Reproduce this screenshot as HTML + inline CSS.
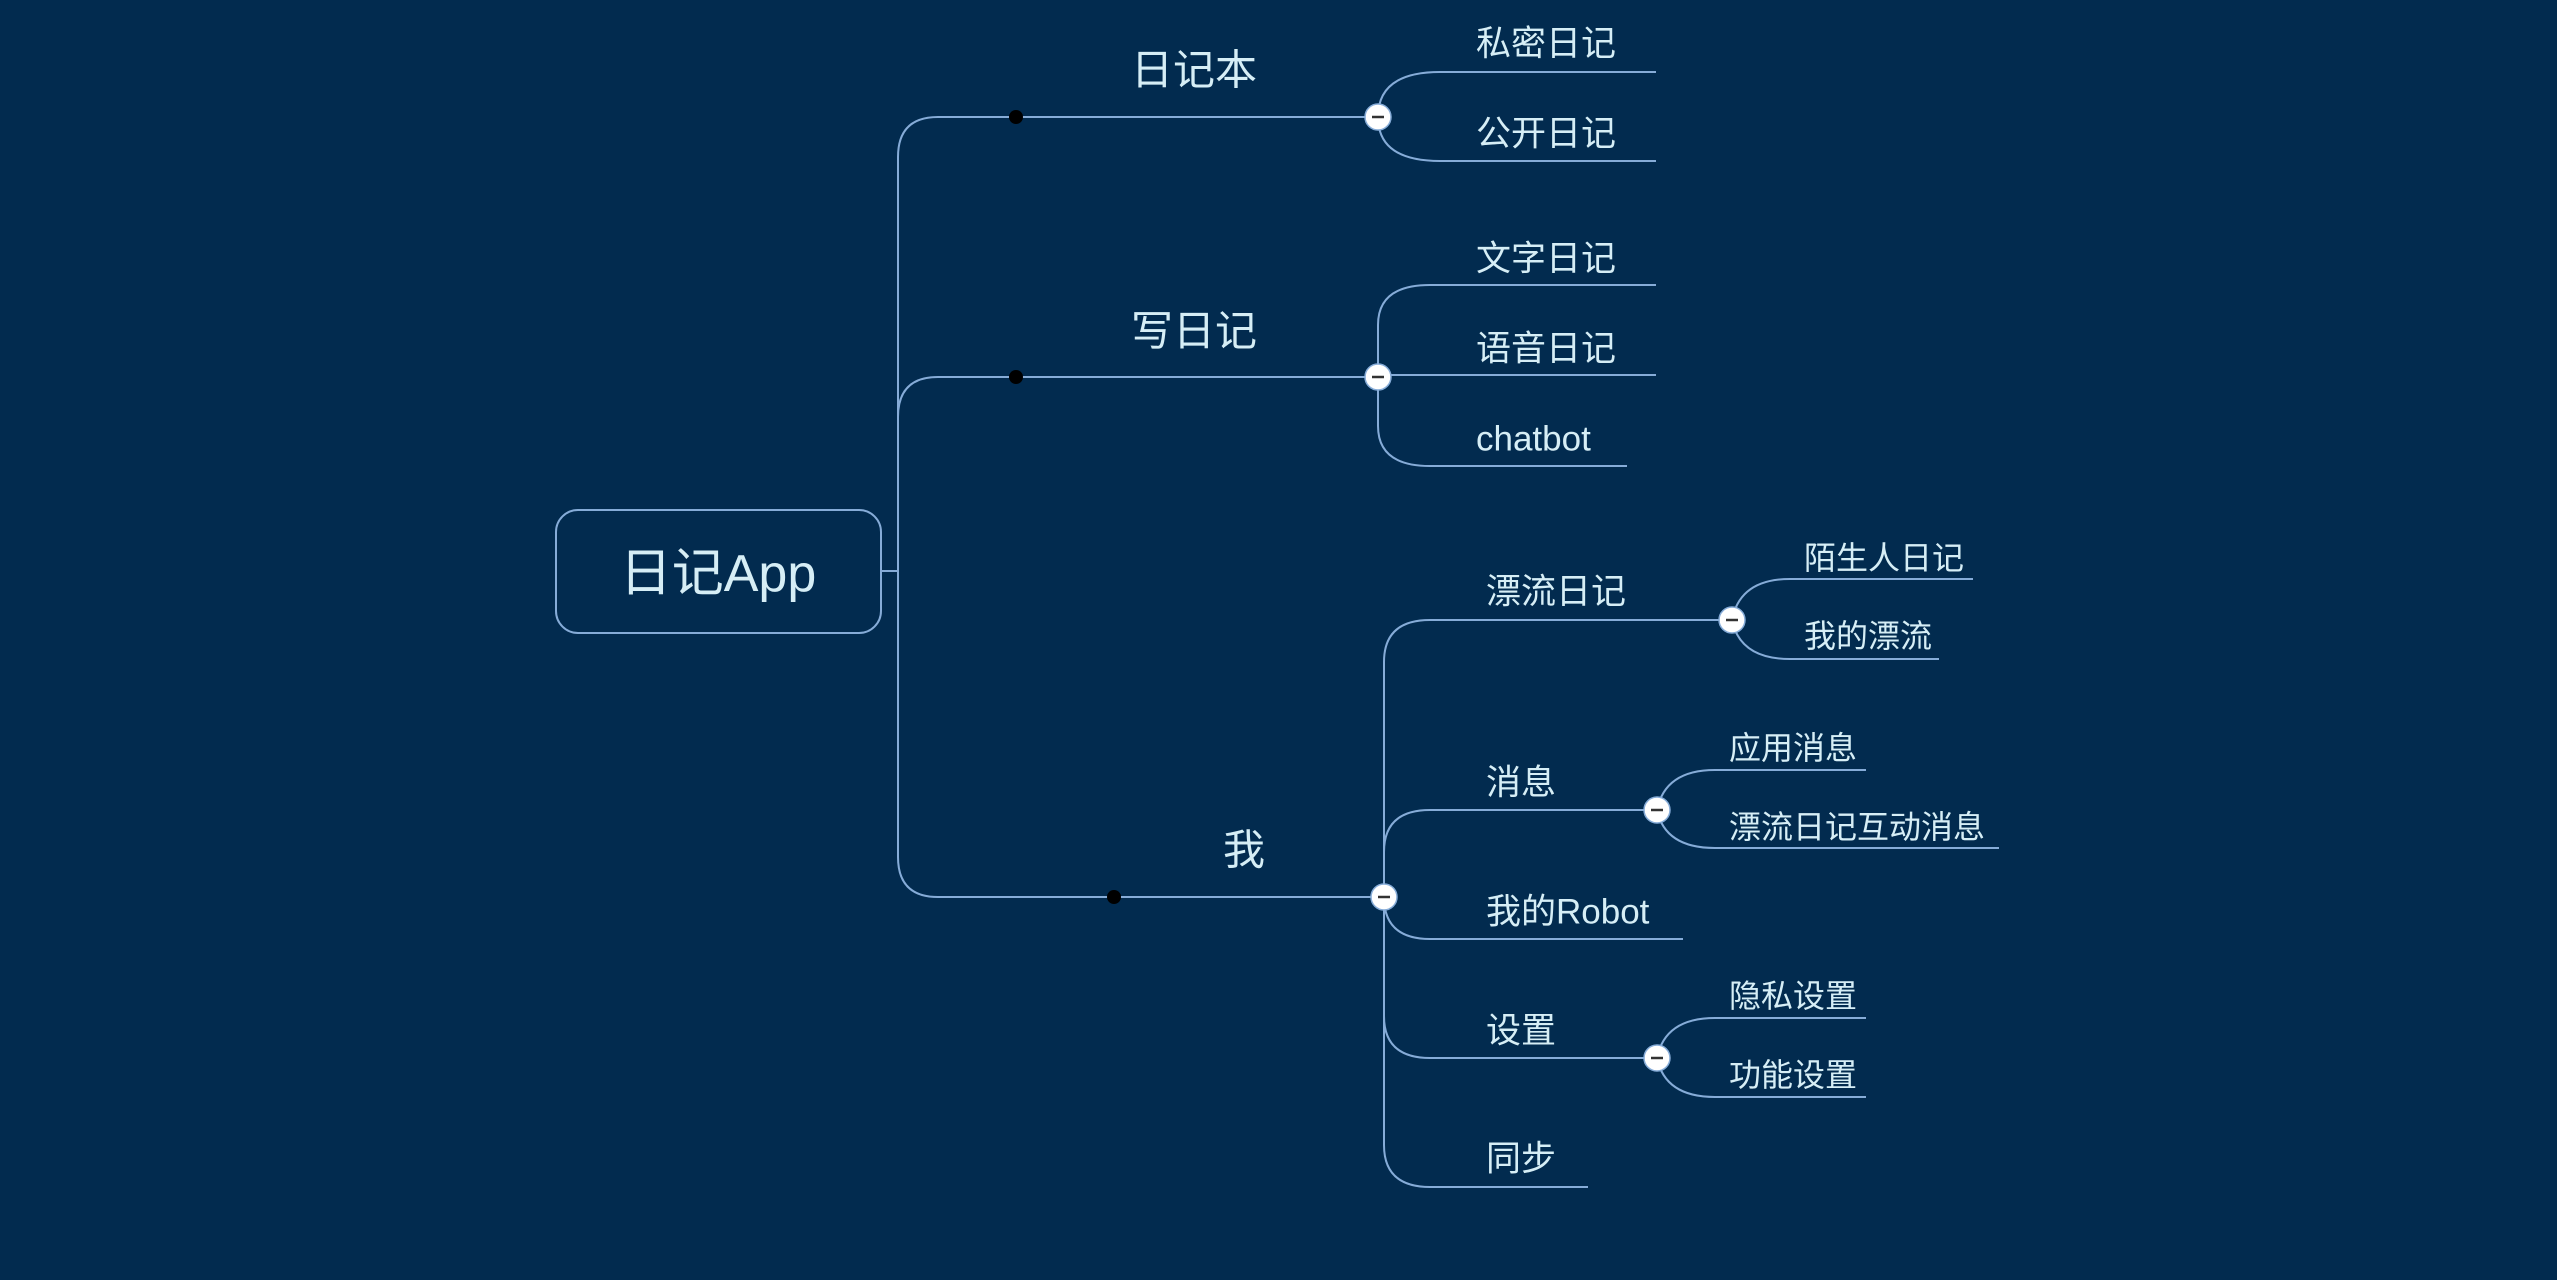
<!DOCTYPE html>
<html><head><meta charset="utf-8"><style>
html,body{margin:0;padding:0;background:#022b4f;width:2557px;height:1280px;overflow:hidden}
svg text{font-family:"Liberation Sans","Noto Sans CJK SC",sans-serif;fill:#d6eef6}
</style></head><body>
<svg width="2557" height="1280" viewBox="0 0 2557 1280" xmlns="http://www.w3.org/2000/svg">
<rect width="2557" height="1280" fill="#022b4f"/>
<g fill="none" stroke="#86acd8" stroke-width="2">
<rect x="556" y="510" width="325" height="123" rx="22"/>
<path d="M881 571 L898 571"/>
<path d="M1016 117 L938 117 Q898 117 898 157 L898 857 Q898 897 938 897 L1114 897"/>
<path d="M898 417 Q898 377 938 377 L1016 377"/>
<path d="M1016 117 L1378 117"/>
<path d="M1016 377 L1378 377"/>
<path d="M1114 897 L1384 897"/>
<path d="M1378 117 Q1378 72 1440 72 L1656 72"/>
<path d="M1378 117 Q1378 161 1440 161 L1656 161"/>
<path d="M1378 377 L1378 325 Q1378 285 1430 285 L1656 285"/>
<path d="M1378 375 L1656 375"/>
<path d="M1378 377 L1378 426 Q1378 466 1430 466 L1627 466"/>
<path d="M1384 897 L1384 662 Q1384 620 1430 620 L1732 620"/>
<path d="M1384 852 Q1384 810 1430 810 L1657 810"/>
<path d="M1384 897 Q1384 939 1430 939 L1683 939"/>
<path d="M1384 897 L1384 1016 Q1384 1058 1430 1058 L1657 1058"/>
<path d="M1384 1016 L1384 1145 Q1384 1187 1430 1187 L1588 1187"/>
<path d="M1732 620 Q1740 579 1790 579 L1973 579"/>
<path d="M1732 620 Q1740 659 1790 659 L1939 659"/>
<path d="M1657 810 Q1665 770 1715 770 L1866 770"/>
<path d="M1657 810 Q1665 848 1715 848 L1999 848"/>
<path d="M1657 1058 Q1665 1018 1715 1018 L1866 1018"/>
<path d="M1657 1058 Q1665 1097 1715 1097 L1866 1097"/>
</g>
<g fill="#000"><circle cx="1016" cy="117" r="7"/><circle cx="1016" cy="377" r="7"/><circle cx="1114" cy="897" r="7"/></g>
<g fill="#fff" stroke="#86acd8" stroke-width="1.5">
<circle cx="1378" cy="117" r="13"/><circle cx="1378" cy="377" r="13"/><circle cx="1384" cy="897" r="13"/>
<circle cx="1732" cy="620" r="13"/><circle cx="1657" cy="810" r="13"/><circle cx="1657" cy="1058" r="13"/>
</g>
<g stroke="#333" stroke-width="2.5">
<path d="M1372 117h12M1372 377h12M1378 897h12M1726 620h12M1651 810h12M1651 1058h12"/>
</g>
<text x="718" y="574" font-size="52" text-anchor="middle" dominant-baseline="central">日记App</text>
<g font-size="42" text-anchor="middle" dominant-baseline="central">
<text x="1194" y="70">日记本</text>
<text x="1194" y="331">写日记</text>
<text x="1244" y="850">我</text>
</g>
<g font-size="35" dominant-baseline="central">
<text x="1476" y="44">私密日记</text>
<text x="1476" y="134">公开日记</text>
<text x="1476" y="259">文字日记</text>
<text x="1476" y="349">语音日记</text>
<text x="1476" y="439">chatbot</text>
<text x="1486" y="592">漂流日记</text>
<text x="1486" y="783">消息</text>
<text x="1486" y="912">我的Robot</text>
<text x="1486" y="1031">设置</text>
<text x="1486" y="1159">同步</text>
</g>
<g font-size="32" dominant-baseline="central">
<text x="1804" y="558">陌生人日记</text>
<text x="1804" y="636">我的漂流</text>
<text x="1729" y="748">应用消息</text>
<text x="1729" y="827">漂流日记互动消息</text>
<text x="1729" y="996">隐私设置</text>
<text x="1729" y="1075">功能设置</text>
</g>
</svg>
</body></html>
